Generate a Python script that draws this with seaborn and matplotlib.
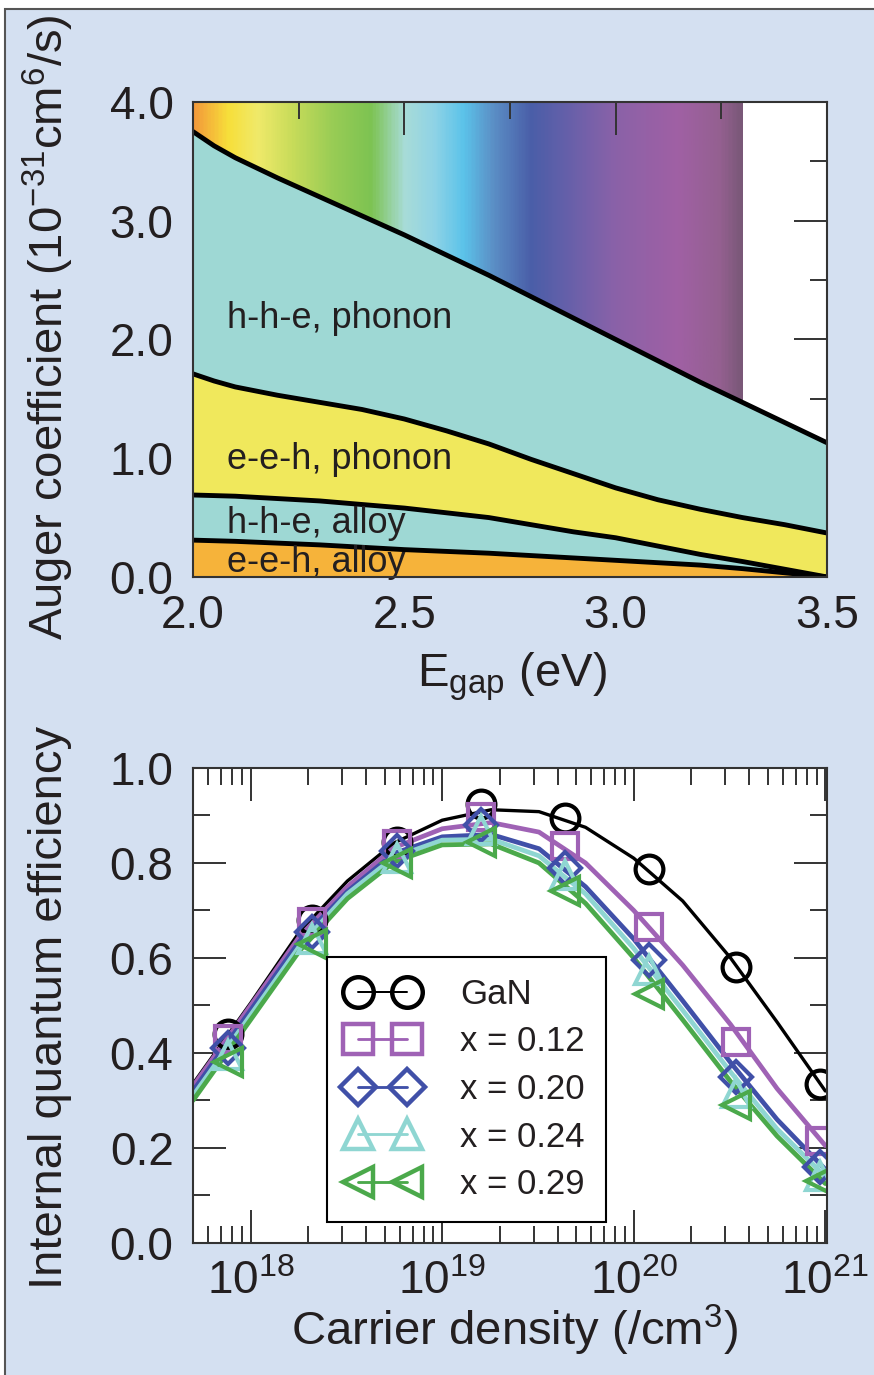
import matplotlib
matplotlib.use("Agg")
import matplotlib.pyplot as plt
import numpy as np
import seaborn as sns
from matplotlib.colors import LinearSegmentedColormap
from matplotlib.lines import Line2D
from matplotlib.patches import Rectangle
from matplotlib.ticker import MultipleLocator, LogLocator, NullFormatter, FormatStrFormatter

sns.set_theme(style="ticks")
plt.rcParams['font.family'] = ['Liberation Sans', 'DejaVu Sans']
plt.rcParams['mathtext.fontset'] = 'custom'
plt.rcParams['mathtext.rm'] = 'Liberation Sans'
plt.rcParams['mathtext.it'] = 'Liberation Sans:italic'
plt.rcParams['mathtext.bf'] = 'Liberation Sans:bold'

# ---- top panel: Auger coefficient vs band gap ----
egap = [2.0, 2.05, 2.1, 2.2, 2.3, 2.4, 2.5, 2.6, 2.7, 2.8, 2.9, 3.0, 3.1, 3.2, 3.3, 3.4, 3.5]
hhe_phonon_top = [3.75, 3.63, 3.53, 3.36, 3.20, 3.04, 2.88, 2.71, 2.54, 2.36, 2.18, 2.00, 1.82, 1.64, 1.47, 1.30, 1.13]
eeh_phonon_top = [1.71, 1.65, 1.60, 1.53, 1.47, 1.41, 1.33, 1.23, 1.12, 0.99, 0.87, 0.75, 0.65, 0.57, 0.50, 0.44, 0.37]
hhe_alloy_top = [0.69, 0.685, 0.68, 0.66, 0.64, 0.61, 0.58, 0.54, 0.50, 0.44, 0.38, 0.33, 0.26, 0.19, 0.13, 0.065, 0.0]
eeh_alloy_top = [0.31, 0.305, 0.30, 0.285, 0.27, 0.25, 0.23, 0.215, 0.20, 0.18, 0.16, 0.14, 0.12, 0.10, 0.07, 0.035, 0.0]

band_labels = ["h-h-e, phonon", "e-e-h, phonon", "h-h-e, alloy", "e-e-h, alloy"]
band_label_y = [2.10, 0.91, 0.37, 0.04]

# visible spectrum behind the plot (photon energy -> colour)
spectrum_e = [2.0, 2.08, 2.15, 2.23, 2.33, 2.42, 2.5, 2.57, 2.64, 2.71, 2.8, 2.9, 3.0, 3.15, 3.25, 3.3]
spectrum_c = ['#f39a3a', '#f7df3a', '#f0ea6a', '#c9dc5a', '#98cc55', '#7dc352', '#a8dcd8', '#8fd3e6',
              '#5bc3ea', '#5b8fc6', '#4a5ea8', '#6a60aa', '#8a62a8', '#a060a4', '#946090', '#7a5878']

# ---- bottom panel: IQE vs carrier density ----
density_curve = [5e17, 1e18, 1.8e18, 3.2e18, 5.6e18, 1e19, 1.8e19, 3.2e19, 5.6e19, 1e20, 1.8e20, 3.2e20, 5.6e20, 1e21]
density_marker = [7.6e17, 2.1e18, 5.8e18, 1.6e19, 4.4e19, 1.2e20, 3.4e20, 9.4e20]

series_names = ["GaN", "x = 0.12", "x = 0.20", "x = 0.24", "x = 0.29"]
iqe_curve = {
    "GaN":      [0.335, 0.505, 0.655, 0.762, 0.842, 0.89, 0.912, 0.908, 0.875, 0.81, 0.72, 0.60, 0.465, 0.32],
    "x = 0.12": [0.33, 0.50, 0.645, 0.75, 0.832, 0.872, 0.885, 0.865, 0.80, 0.70, 0.585, 0.46, 0.325, 0.205],
    "x = 0.20": [0.32, 0.49, 0.635, 0.74, 0.82, 0.855, 0.86, 0.83, 0.75, 0.64, 0.51, 0.38, 0.26, 0.155],
    "x = 0.24": [0.31, 0.48, 0.625, 0.735, 0.812, 0.848, 0.85, 0.815, 0.735, 0.62, 0.49, 0.36, 0.24, 0.14],
    "x = 0.29": [0.30, 0.47, 0.615, 0.725, 0.802, 0.838, 0.84, 0.80, 0.715, 0.60, 0.47, 0.34, 0.225, 0.125],
}
iqe_marker = {
    "GaN":      [0.44, 0.68, 0.845, 0.925, 0.895, 0.787, 0.58, 0.335],
    "x = 0.12": [0.43, 0.675, 0.84, 0.897, 0.835, 0.665, 0.423, 0.215],
    "x = 0.20": [0.41, 0.655, 0.825, 0.88, 0.79, 0.595, 0.35, 0.16],
    "x = 0.24": [0.395, 0.64, 0.81, 0.87, 0.775, 0.575, 0.315, 0.14],
    "x = 0.29": [0.38, 0.63, 0.80, 0.845, 0.74, 0.525, 0.29, 0.13],
}
colors = {"GaN": "black", "x = 0.12": "#9f62b5", "x = 0.20": "#4050a8",
          "x = 0.24": "#8fd6d2", "x = 0.29": "#4ba94b"}
markers = {"GaN": "o", "x = 0.12": "s", "x = 0.20": "D", "x = 0.24": "^", "x = 0.29": "<"}
msizes = {"GaN": 20, "x = 0.12": 19, "x = 0.20": 16, "x = 0.24": 20, "x = 0.29": 20}
lwidths = {"GaN": 2.4, "x = 0.12": 3.4, "x = 0.20": 3.4, "x = 0.24": 3.4, "x = 0.29": 3.4}

ink = '#231f20'
fig = plt.figure(figsize=(8.74, 13.75), dpi=100)
fig.patch.set_facecolor('white')
fig.patches.append(Rectangle((5 / 874, -0.01), 1.0, 1 - 9 / 1375 + 0.01, transform=fig.transFigure,
                             facecolor='#d4e0f1', edgecolor='#555555', lw=1.5, zorder=-10))

ax1 = fig.add_axes([0.2208, 0.5804, 0.7254, 0.3455])
ax2 = fig.add_axes([0.2208, 0.0960, 0.7254, 0.3455])

# top panel
cmap = LinearSegmentedColormap.from_list(
    "spec", [((e - spectrum_e[0]) / (spectrum_e[-1] - spectrum_e[0]), c) for e, c in zip(spectrum_e, spectrum_c)])
ax1.imshow(np.linspace(0, 1, 400)[None, :], cmap=cmap, aspect='auto',
           extent=[spectrum_e[0], spectrum_e[-1], 0, 4.0], zorder=0)
ax1.fill_between(egap, eeh_phonon_top, hhe_phonon_top, color='#9ed8d4', lw=0, zorder=1)
ax1.fill_between(egap, hhe_alloy_top, eeh_phonon_top, color='#f0e85c', lw=0, zorder=1)
ax1.fill_between(egap, eeh_alloy_top, hhe_alloy_top, color='#9ed8d4', lw=0, zorder=1)
ax1.fill_between(egap, 0, eeh_alloy_top, color='#f6b33a', lw=0, zorder=1)
for curve in [hhe_phonon_top, eeh_phonon_top, hhe_alloy_top, eeh_alloy_top]:
    sns.lineplot(x=egap, y=curve, ax=ax1, color='black', lw=3.5, legend=False, zorder=3)
for lab, yv in zip(band_labels, band_label_y):
    ax1.text(2.08, yv, lab, fontsize=26, color=ink, va='baseline', ha='left', zorder=4)
ax1.set_xlim(2.0, 3.5)
ax1.set_ylim(0, 4.0)
ax1.set_facecolor('white')
ax1.xaxis.set_major_locator(MultipleLocator(0.5))
ax1.xaxis.set_minor_locator(MultipleLocator(0.25))
ax1.yaxis.set_major_locator(MultipleLocator(1.0))
ax1.yaxis.set_minor_locator(MultipleLocator(0.5))
ax1.xaxis.set_major_formatter(FormatStrFormatter('%.1f'))
ax1.yaxis.set_major_formatter(FormatStrFormatter('%.1f'))
ax1.set_xlabel("")
ax1.set_ylabel("")

# bottom panel
ax2.set_xscale('log')
for name in series_names:
    sns.lineplot(x=density_curve, y=iqe_curve[name], ax=ax2, color=colors[name],
                 lw=lwidths[name], legend=False, zorder=3)
    ax2.plot(density_marker, iqe_marker[name], ls='none', marker=markers[name], ms=msizes[name],
             mfc='none', mec=colors[name], mew=3.0, zorder=4)
ax2.set_xlim(5e17, 1.02e21)
ax2.set_ylim(0, 1.0)
ax2.set_facecolor('white')
ax2.xaxis.set_major_locator(LogLocator(base=10, numticks=10))
ax2.xaxis.set_minor_locator(LogLocator(base=10, subs=np.arange(2, 10), numticks=20))
ax2.xaxis.set_minor_formatter(NullFormatter())
ax2.yaxis.set_major_locator(MultipleLocator(0.2))
ax2.yaxis.set_minor_locator(MultipleLocator(0.1))
ax2.yaxis.set_major_formatter(FormatStrFormatter('%.1f'))
ax2.set_xlabel("")
ax2.set_ylabel("")

handles = [Line2D([], [], color=colors[n], lw=lwidths[n] * 0.6, marker=markers[n], ms=msizes[n] + 2,
                  mfc='none', mec=colors[n], mew=3.2) for n in series_names]
leg = ax2.legend(handles, series_names, loc='upper left', bbox_to_anchor=(0.211, 0.602),
                 borderaxespad=0, fontsize=25, numpoints=2, handlelength=2.0, handletextpad=1.25,
                 labelspacing=0.42, borderpad=0.6, fancybox=False, framealpha=1, edgecolor='black',
                 facecolor='white')
leg.get_frame().set_linewidth(1.5)
for t in leg.get_texts():
    t.set_color(ink)

for ax in (ax1, ax2):
    for sp in ax.spines.values():
        sp.set_color('#333333')
        sp.set_linewidth(1.5)
        sp.set_zorder(5)
    ax.tick_params(which='both', direction='in', top=True, right=True, color='#333333',
                   width=1.4, labelsize=33, labelcolor=ink)
    ax.tick_params(which='major', length=24)
    ax.tick_params(which='minor', length=12)
    ax.tick_params(axis='y', which='both', pad=14)
    ax.tick_params(axis='x', which='both', pad=12)
ax2.tick_params(axis='x', which='both', pad=12)

fig.text(48 / 874, 1 - 327 / 1375, r"Auger coefficient (10$^{-31}$cm$^{6}$/s)", rotation=90,
         ha='center', va='center', fontsize=34, color=ink)
fig.text(50 / 874, 1 - 1007 / 1375, "Internal quantum efficiency", rotation=90,
         ha='center', va='center', fontsize=34, color=ink)
fig.text(512 / 874, 1 - 686 / 1375, r"E$_{\mathrm{gap}}$ (eV)", ha='center', va='baseline',
         fontsize=34, color=ink)
fig.text(515 / 874, 1 - 1345 / 1375, r"Carrier density (/cm$^{3}$)", ha='center', va='baseline',
         fontsize=34, color=ink)

fig.savefig("out.png", dpi=100)
